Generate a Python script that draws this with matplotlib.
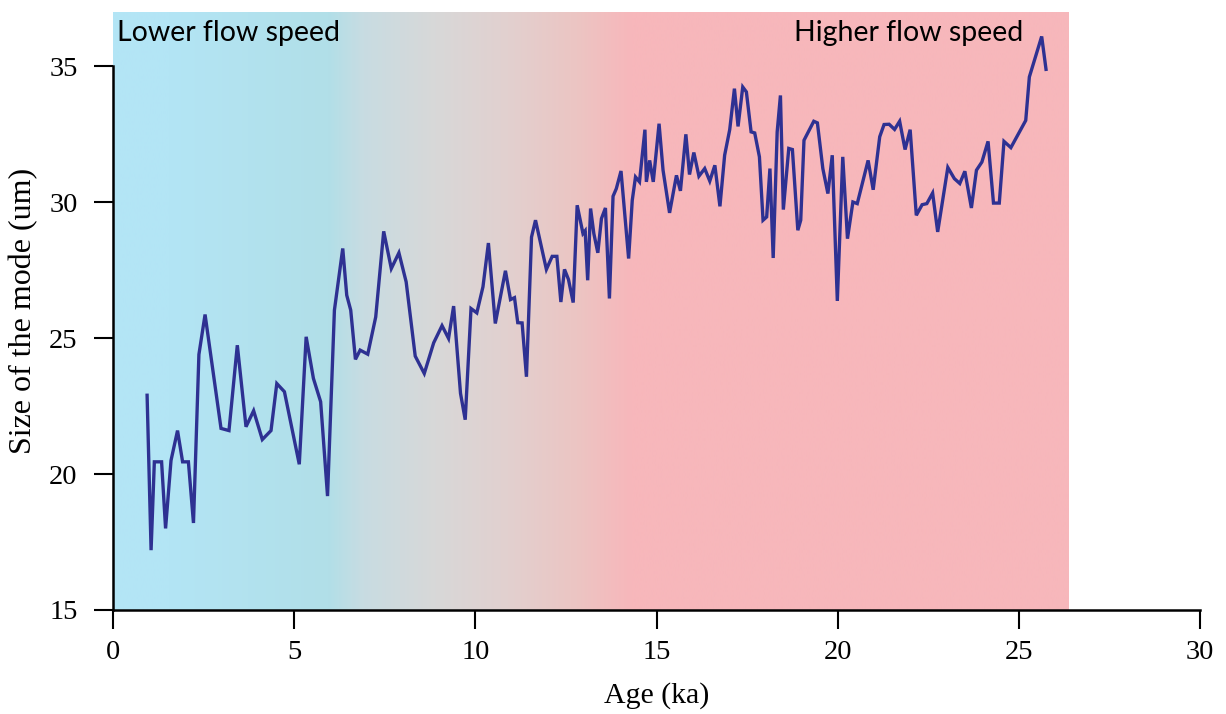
import numpy as np
import matplotlib
matplotlib.use("Agg")
import matplotlib.pyplot as plt
from matplotlib.colors import LinearSegmentedColormap

# ---- data ----
age_ka = [0.94, 1.05, 1.14, 1.34, 1.45, 1.6, 1.78, 1.92, 2.08, 2.22, 2.37, 2.54, 2.98, 3.2, 3.43,
          3.67, 3.88, 4.12, 4.36, 4.52, 4.73, 5.14, 5.33, 5.53, 5.73, 5.92, 6.11, 6.34, 6.45, 6.56,
          6.69, 6.82, 7.03, 7.25, 7.47, 7.68, 7.89, 8.09, 8.34, 8.59, 8.85, 9.08, 9.26, 9.40, 9.59,
          9.72, 9.88, 10.04, 10.21, 10.36, 10.55, 10.83, 10.97, 11.08, 11.17, 11.29, 11.41, 11.55,
          11.66, 11.96, 12.12, 12.25, 12.36, 12.46, 12.57, 12.70, 12.81, 12.97, 13.03, 13.10, 13.18,
          13.27, 13.38, 13.48, 13.59, 13.70, 13.80, 13.89, 14.02, 14.23, 14.33, 14.42, 14.53, 14.68,
          14.72, 14.81, 14.91, 15.07, 15.18, 15.36, 15.55, 15.66, 15.81, 15.91, 16.03, 16.17, 16.33,
          16.47, 16.61, 16.75, 16.88, 17.02, 17.15, 17.25, 17.38, 17.48, 17.61, 17.71, 17.84, 17.94,
          18.04, 18.13, 18.22, 18.33, 18.42, 18.50, 18.65, 18.75, 18.90, 18.98, 19.07, 19.34, 19.44,
          19.59, 19.73, 19.85, 19.99, 20.14, 20.27, 20.42, 20.54, 20.84, 20.98, 21.16, 21.28, 21.42,
          21.57, 21.71, 21.86, 22.0, 22.17, 22.33, 22.46, 22.62, 22.76, 23.04, 23.22, 23.37, 23.51,
          23.69, 23.83, 23.98, 24.15, 24.30, 24.46, 24.59, 24.78, 25.19, 25.29, 25.63, 25.75]

mode_size = [22.9, 17.2, 20.45, 20.45, 18.0, 20.5, 21.6, 20.45, 20.45, 18.2, 24.4, 25.87, 21.68, 21.6, 24.74,
             21.74, 22.33, 21.27, 21.6, 23.33, 23.03, 20.36, 25.05, 23.52, 22.66, 19.19, 26.03, 28.3, 26.58, 26.03,
             24.22, 24.56, 24.41, 25.78, 28.93, 27.56, 28.14, 27.07, 24.34, 23.7, 24.83, 25.46, 24.99, 26.18, 22.97,
             22.0, 26.09, 25.93, 26.89, 28.5, 25.54, 27.48, 26.42, 26.49, 25.57, 25.56, 23.58, 28.72,
             29.34, 27.53, 28.01, 28.01, 26.33, 27.53, 27.16, 26.31, 29.89, 28.85, 28.95, 27.13, 29.77,
             28.85, 28.14, 29.4, 29.79, 26.46, 30.22, 30.5, 31.15, 27.93, 30.07, 30.93, 30.75, 32.67,
             30.75, 31.54, 30.75, 32.89, 31.18, 29.61, 30.99, 30.42, 32.5, 31.02, 31.83, 30.96, 31.24,
             30.78, 31.36, 29.85, 31.73, 32.67, 34.18, 32.79, 34.24, 34.06, 32.59, 32.55, 31.67, 29.34,
             29.46, 31.24, 27.95, 32.59, 33.93, 29.73, 31.98, 31.94, 28.97, 29.34, 32.28, 32.98, 32.92,
             31.24, 30.32, 31.73, 26.37, 31.67, 28.66, 30.01, 29.95, 31.54, 30.46, 32.41, 32.86, 32.87,
             32.68, 32.98, 31.94, 32.67, 29.52, 29.91, 29.95, 30.34, 28.91, 31.28, 30.87, 30.69, 31.14,
             29.79, 31.18, 31.48, 32.24, 29.97, 29.97, 32.24, 32.01, 33.01, 34.61, 36.1, 34.89]

x_ticks = [0, 5, 10, 15, 20, 25, 30]
y_ticks = [15, 20, 25, 30, 35]
label_low = "Lower flow speed"
label_high = "Higher flow speed"

# background gradient stops (age in ka, colour)
grad_pos = [0.0, 1.5, 5.9, 6.9, 8.9, 10.9, 12.8, 14.3, 26.38]
grad_col = ["#b3e5f6", "#b3e5f5", "#b1dfe8", "#c8dce2", "#d8d8d8", "#e2d0cf", "#ecc5c3", "#f7b7bb", "#f7b7bb"]
shade_x = (0.0, 26.38)
shade_y = (15.0, 37.0)

# ---- figure ----
fig = plt.figure(figsize=(12.26, 7.14), dpi=100)
ax = fig.add_axes([0.0922, 0.1457, 0.8866, 0.8375])

stops = [(p - shade_x[0]) / (shade_x[1] - shade_x[0]) for p in grad_pos]
cmap = LinearSegmentedColormap.from_list("flow", list(zip(stops, grad_col)), N=512)
grad = np.linspace(0, 1, 800).reshape(1, -1)
ax.imshow(grad, cmap=cmap, aspect="auto", extent=[shade_x[0], shade_x[1], shade_y[0], shade_y[1]],
          origin="lower", zorder=0, interpolation="bilinear")

ax.plot(age_ka, mode_size, color="#2e3192", lw=2.4, zorder=3, solid_joinstyle="miter")

ax.set_xlim(0, 30)
ax.set_ylim(15, 37)
ax.set_xticks(x_ticks)
ax.set_yticks(y_ticks)

for s in ["top", "right"]:
    ax.spines[s].set_visible(False)
ax.spines["left"].set_bounds(15, 35)
ax.spines["left"].set_linewidth(1.8)
ax.spines["bottom"].set_linewidth(1.8)
ax.spines["left"].set_zorder(4)
ax.spines["bottom"].set_zorder(4)

serif = ["Liberation Serif", "DejaVu Serif"]
ax.tick_params(axis="both", direction="out", length=13.5, width=1.5, labelsize=20.5)
ax.tick_params(axis="x", pad=8)
ax.tick_params(axis="y", pad=12)
for lab in ax.get_xticklabels() + ax.get_yticklabels():
    lab.set_fontfamily(serif)

ax.set_xlabel("Age (ka)", fontsize=21.5, fontfamily=serif)
ax.xaxis.set_label_coords(0.5, -0.155)
ax.xaxis.label.set_va("baseline")
ax.set_ylabel("Size of the mode (um)", fontsize=23, fontfamily=serif, labelpad=8)

ax.text(0.12, 36.7, label_low, fontsize=20.5, fontfamily=["Lato", "DejaVu Sans"], ha="left", va="top", zorder=5)
ax.text(25.11, 36.7, label_high, fontsize=20.5, fontfamily=["Lato", "DejaVu Sans"], ha="right", va="top", zorder=5)

fig.savefig("out.png", dpi=100)
